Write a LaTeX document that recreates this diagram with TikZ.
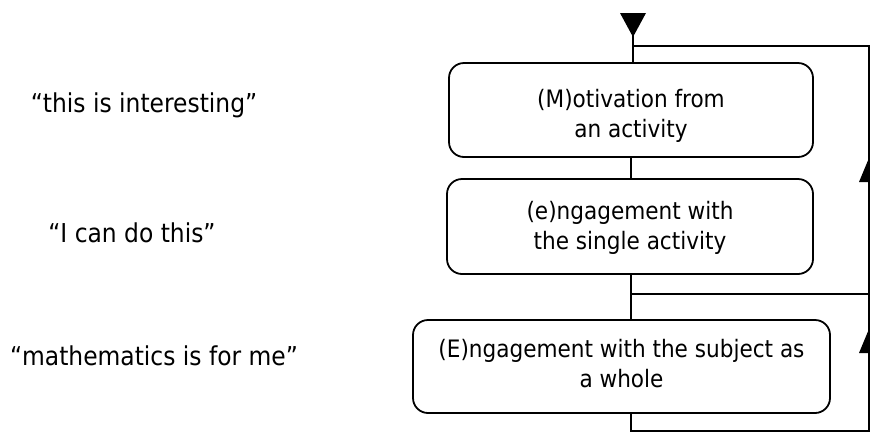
\documentclass[tikz,border=0pt]{standalone}
\usepackage{fontspec}
\setmainfont{DejaVu Sans Condensed}
\usetikzlibrary{arrows.meta,calc}
\newcommand{\htrule}[1]{\rule{0pt}{#1}}
\newcommand{\dprule}[1]{\rule[-#1]{0pt}{#1}}
\begin{document}
\begin{tikzpicture}[x=1pt,y=-1pt,
  box/.style={draw, line width=1.8pt, rounded corners=15pt, align=center,
    font=\fontsize{24}{30}\selectfont, inner sep=0pt},
  lbl/.style={anchor=base, font=\fontsize{26}{30}\selectfont, inner sep=0pt},
  conn/.style={line width=1.8pt},
  tipfill/.style={fill=black, draw=none}]
\useasboundingbox (0,0) rectangle (873,432);
% boxes
\node[box, minimum width=364pt, minimum height=94pt] (m) at (631,110)
  {\htrule{30pt}(M)otivation from\\an activity\dprule{6pt}};
\node[box, minimum width=366pt, minimum height=95pt] (e) at (630,226.5)
  {\htrule{21pt}(e)ngagement with\\the single activity\dprule{6pt}};
\node[box, minimum width=417pt, minimum height=93pt] (E) at (621.5,366.5)
  {\htrule{19pt}(E)ngagement with the subject as\\a whole\dprule{8pt}};
% left labels
\node[lbl] (l1) at (144,112) {“this is interesting”};
\node[lbl] (l2) at (132,242) {“I can do this”};
\node[lbl] (l3) at (154,365) {“mathematics is for me”};
% entry
\coordinate (in) at (633,13);
\coordinate (intip) at (633,37);
\draw[conn] (in) -- (in |- m.north);
\fill[tipfill] ($(in)+(-13,0)$) -- ($(in)+(13,0)$) -- (intip) -- cycle;
% main chain
\coordinate (j1) at (633,46);
\coordinate (r1) at (869,46);
\coordinate (r2) at (869,431);
\coordinate (b) at (631,431);
\coordinate (j2) at (631,294);
\draw[conn] (m.south) -- (m.south |- e.north);
\draw[conn] (j2 |- e.south) -- (j2 |- E.north);
\draw[conn] (b |- E.south) -- (b) -- (r2) -- (r1) -- (j1);
\draw[conn] (j2) -- (j2 -| r1);
% upward arrow heads on the return line
\fill[tipfill] (869,158) -- (869,182) -- (859,182) -- cycle;
\fill[tipfill] (869,329) -- (869,353) -- (859,353) -- cycle;
\end{tikzpicture}
\end{document}
